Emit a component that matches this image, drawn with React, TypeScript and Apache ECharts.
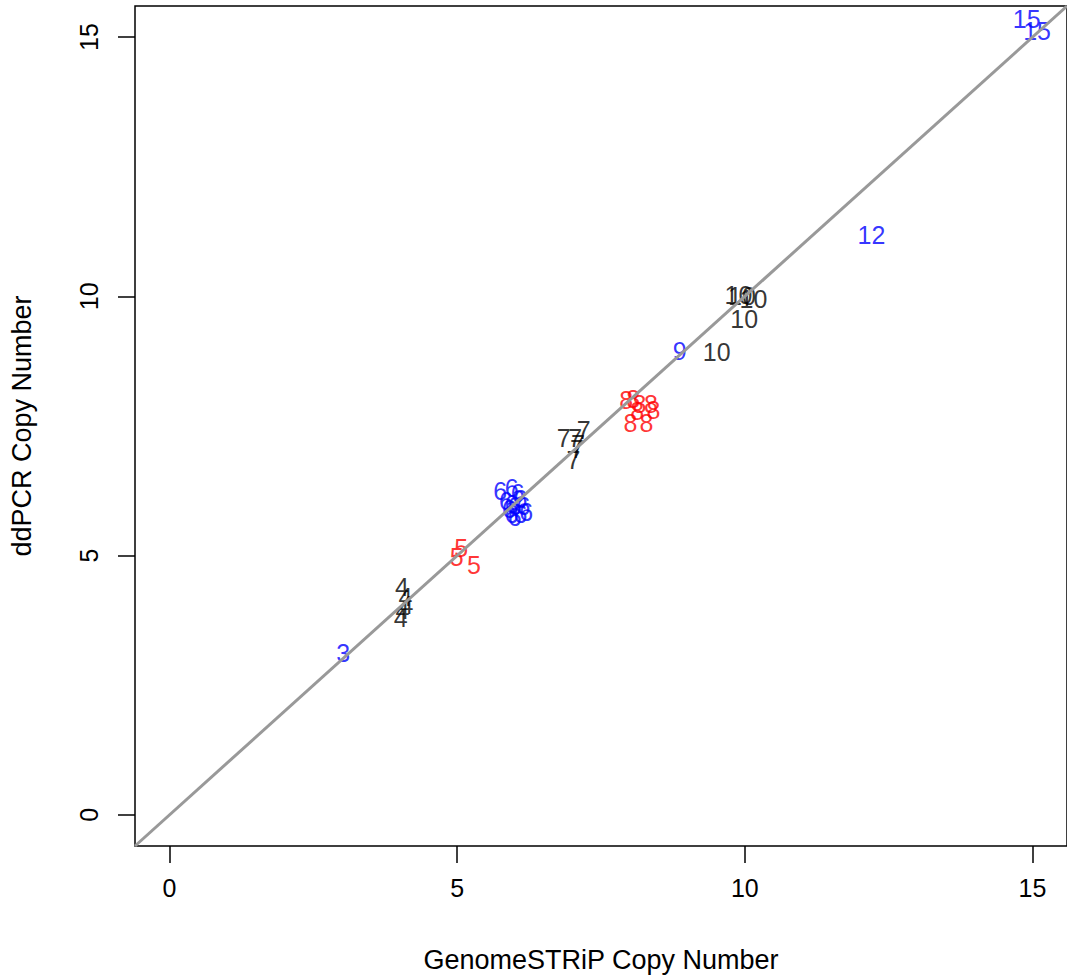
import React, { useEffect, useRef } from "react";
import * as echarts from "echarts";

// GenomeSTRiP copy number (x), ddPCR copy number (y), and the text drawn at each point
const genomeStripCN = [
  3.02,
  4.04, 4.1, 4.12, 4.05, 4.02,
  5.07, 4.99, 5.29,
  5.75, 5.95, 6.05, 5.85, 5.95, 6.1, 5.9, 6.0, 6.15, 5.95, 6.1, 6.2, 6.0,
  6.85, 7.05, 7.2, 7.1, 7.08, 7.02,
  7.94, 8.06, 8.17, 8.37, 8.13, 8.01, 8.29, 8.41,
  8.87,
  9.51, 9.89, 9.95, 10.15, 9.99,
  12.2,
  14.9, 15.08,
];
const ddpcrCN = [
  3.12,
  4.4, 4.2, 4.05, 3.95, 3.8,
  5.14, 4.97, 4.82,
  6.25, 6.3, 6.2, 6.05, 6.0, 6.1, 5.9, 5.95, 5.95, 5.8, 5.8, 5.85, 5.75,
  7.27, 7.27, 7.42, 7.15, 7.05, 6.85,
  8.0, 8.03, 7.92, 7.92, 7.78, 7.55, 7.55, 7.8,
  8.94,
  8.92, 10.02, 10.0, 9.94, 9.56,
  11.18,
  15.35, 15.12,
];
const cnLabels = [
  3,
  4, 4, 4, 4, 4,
  5, 5, 5,
  6, 6, 6, 6, 6, 6, 6, 6, 6, 6, 6, 6, 6,
  7, 7, 7, 7, 7, 7,
  8, 8, 8, 8, 8, 8, 8, 8,
  9,
  10, 10, 10, 10, 10,
  12,
  15, 15,
];
const tickValues = [0, 5, 10, 15];
const axisMin = -0.6;
const axisMax = 15.6;

const palette = ["#0000FF", "#000000", "#FF0000"]; // by copy number mod 3

export default function App() {
  const ref = useRef<HTMLDivElement>(null);
  useEffect(() => {
    if (!ref.current) return;
    const chart = echarts.init(ref.current, undefined, { renderer: "svg" });
    const groups: Record<number, any[]> = { 0: [], 1: [], 2: [] };
    genomeStripCN.forEach((x, i) => {
      groups[cnLabels[i] % 3].push([x, ddpcrCN[i], cnLabels[i]]);
    });
    const font = "'Liberation Sans', Arial, sans-serif";
    const scatterSeries = [0, 1, 2].map((k) => ({
      type: "scatter",
      data: groups[k],
      symbolSize: 1,
      itemStyle: { color: "rgba(0,0,0,0)" },
      z: 2,
      silent: true,
      label: {
        show: true,
        position: "inside",
        formatter: (p: any) => String(p.value[2]),
        color: palette[k],
        fontSize: 25,
        fontFamily: font,
      },
    }));
    const axisCommon = {
      type: "value",
      min: axisMin,
      max: axisMax,
      axisLine: { show: false, onZero: false },
      splitLine: { show: false },
      axisTick: {
        show: true,
        inside: false,
        length: 17,
        customValues: tickValues,
        lineStyle: { color: "#000", width: 1.5 },
      },
    };
    chart.setOption({
      animation: false,
      backgroundColor: "#ffffff",
      grid: {
        show: true,
        left: 134.5,
        top: 6,
        width: 938,
        height: 841,
        borderColor: "#000",
        borderWidth: 1.5,
        backgroundColor: "transparent",
      },
      xAxis: {
        ...axisCommon,
        name: "GenomeSTRiP Copy Number",
        nameLocation: "middle",
        nameGap: 100,
        nameTextStyle: { fontSize: 27, fontFamily: font, color: "#000" },
        axisLabel: {
          customValues: tickValues,
          margin: 29,
          fontSize: 25,
          fontFamily: font,
          color: "#000",
        },
      },
      yAxis: {
        ...axisCommon,
        name: "ddPCR Copy Number",
        nameLocation: "middle",
        nameGap: 100,
        nameRotate: 90,
        nameTextStyle: { fontSize: 27, fontFamily: font, color: "#000" },
        axisLabel: {
          customValues: tickValues,
          rotate: 90,
          margin: 34,
          fontSize: 25,
          fontFamily: font,
          color: "#000",
        },
      },
      series: [
        ...scatterSeries,
        {
          type: "line",
          data: [
            [axisMin, axisMin],
            [axisMax, axisMax],
          ],
          showSymbol: false,
          silent: true,
          z: 5,
          lineStyle: { color: "#999999", width: 3 },
        },
      ],
    });
    return () => chart.dispose();
  }, []);
  return (
    <div
      ref={ref}
      style={{ position: "fixed", left: 0, top: 0, width: 1067, height: 978, background: "#fff" }}
    />
  );
}
